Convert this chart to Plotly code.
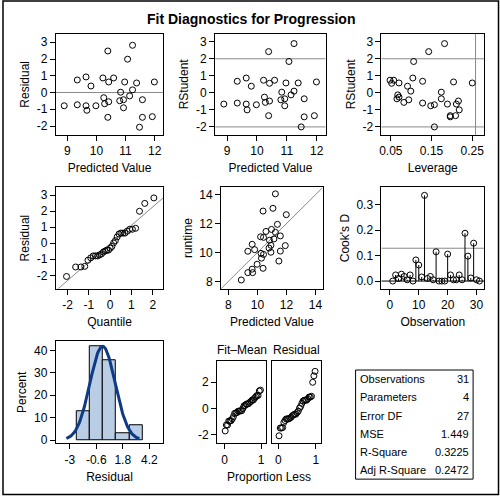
import plotly.graph_objects as go
from statistics import NormalDist, mean, stdev

# ---- data (observation order) ----
observation = list(range(1, 32))
predicted = [9.81, 9.64, 9.34, 8.89, 11.99, 11.58, 10.93, 10.93, 11.07, 9.67,
             10.42, 11.24, 10.59, 9.64, 10.28, 11.58, 10.25, 10.83, 11.14, 11.92,
             9.98, 10.22, 10.97, 11.38, 10.80, 10.39, 10.39, 9.34, 11.48, 10.42, 11.24]
residual = [0.39, -0.79, -0.73, -0.79, 0.63, -0.43, -0.91, -0.43, 1.99, -1.06,
            -0.55, 2.82, 0.87, 0.93, -0.67, -1.48, -0.31, 0.02, -0.20, -1.44,
            -0.79, 0.87, 0.63, 0.57, -0.49, 2.48, -1.48, 0.75, -2.07, 0.63, 0.16]
runtime = [10.20, 8.85, 8.61, 8.10, 12.62, 11.15, 10.02, 10.50, 13.06, 8.61,
           9.87, 14.06, 11.46, 10.57, 9.61, 10.10, 9.94, 10.85, 10.94, 10.48,
           9.19, 11.09, 11.60, 11.95, 10.31, 12.87, 8.91, 10.09, 9.41, 11.05, 11.40]
rstudent = [0.39, -0.66, -0.60, -0.66, 0.64, -0.35, -0.76, -0.35, 1.84, -1.00,
            -0.48, 2.89, 0.74, 0.87, -0.56, -1.41, -0.25, 0.04, -0.12, -1.34,
            -0.70, 0.74, 0.58, 0.58, -0.41, 2.42, -1.34, 0.68, -2.00, 0.56, 0.10]
leverage = [0.091, 0.189, 0.128, 0.211, 0.204, 0.174, 0.148, 0.065, 0.106, 0.218,
            0.216, 0.182, 0.057, 0.104, 0.082, 0.196, 0.070, 0.174, 0.067, 0.209,
            0.157, 0.048, 0.070, 0.250, 0.094, 0.143, 0.196, 0.128, 0.157, 0.052, 0.099]
cooks_d = [0.000, 0.024, 0.010, 0.027, 0.018, 0.005, 0.024, 0.000, 0.083, 0.063,
           0.016, 0.337, 0.010, 0.018, 0.005, 0.115, 0.000, 0.000, 0.000, 0.106,
           0.024, 0.005, 0.005, 0.024, 0.005, 0.188, 0.098, 0.012, 0.149, 0.005, 0.000]

stat_labels = ["Observations", "Parameters", "Error DF", "MSE", "R-Square", "Adj R-Square"]
stat_values = ["31", "4", "27", "1.449", "0.3225", "0.2472"]

n_obs = 31
n_par = 4
title_text = "Fit Diagnostics for Progression"

# ---- derived statistics ----
nd = NormalDist()
sorted_res = sorted(residual)
quantiles = [nd.inv_cdf((i + 1 - 0.375) / (n_obs + 0.25)) for i in range(n_obs)]
res_sd = stdev(residual)
res_mean = mean(residual)
pred_mean = mean(predicted)
fit_mean = sorted([p - pred_mean for p in predicted])
prop_less = [(i + 1 - 0.375) / (n_obs + 0.25) for i in range(n_obs)]
curve_x = [-3.3 + 6.6 * i / 120 for i in range(121)]
dist = NormalDist(res_mean, res_sd)
curve_y = [100 * 1.2 * dist.pdf(x) for x in curve_x]

W = H = 500
def px(x):
    return x / W
def py(y):
    return 1 - y / H

FONT = "Liberation Sans, Arial, sans-serif"
GRAY = "#8a8a8a"

def labels(vals, fmt="{:g}"):
    return [fmt.format(v).replace("\u2212", "-") for v in vals]

fig = go.Figure()

marker = dict(symbol="circle-open", size=6, color="black", line=dict(width=1, color="black"))

panels = {
    1: dict(x=(54, 162), y=(34, 136)),
    2: dict(x=(214, 325), y=(34, 136)),
    3: dict(x=(381, 484), y=(34, 136)),
    4: dict(x=(54, 162), y=(189, 291)),
    5: dict(x=(220, 322), y=(189, 291)),
    6: dict(x=(381, 484), y=(189, 291)),
    7: dict(x=(54, 162), y=(344, 447)),
    8: dict(x=(216, 265), y=(364, 447)),
    9: dict(x=(271, 320), y=(364, 447)),
}

axis_common = dict(showline=True, mirror=True, linecolor="black", linewidth=1,
                   ticks="outside", ticklen=5, tickcolor="black", showgrid=False,
                   zeroline=False, tickfont=dict(family=FONT, size=12, color="black"))

def set_axes(k, xr, yr, xt, yt, xtitle=None, ytitle=None, xfmt="{:g}", yfmt="{:g}",
             showyticks=True):
    p = panels[k]
    xa = dict(axis_common, domain=[px(p["x"][0]), px(p["x"][1])], range=xr,
              anchor="y" + ("" if k == 1 else str(k)), tickvals=xt,
              ticktext=labels(xt, xfmt))
    ya = dict(axis_common, domain=[py(p["y"][1]), py(p["y"][0])], range=yr,
              anchor="x" + ("" if k == 1 else str(k)), tickvals=yt,
              ticktext=labels(yt, yfmt))
    if xtitle:
        xa["title"] = dict(text=xtitle, font=dict(family=FONT, size=12, color="black"), standoff=6)
    if ytitle:
        ya["title"] = dict(text=ytitle, font=dict(family=FONT, size=12, color="black"), standoff=4)
    if not showyticks:
        ya["showticklabels"] = False
        ya["ticks"] = ""
    name = "" if k == 1 else str(k)
    fig.update_layout(**{"xaxis" + name: xa, "yaxis" + name: ya})

def ax(k):
    return ("x" if k == 1 else "x%d" % k), ("y" if k == 1 else "y%d" % k)

def hline(k, y, x0, x1, color=GRAY, width=1):
    xa, ya = ax(k)
    fig.add_shape(type="line", xref=xa, yref=ya, x0=x0, x1=x1, y0=y, y1=y,
                  line=dict(color=color, width=width), layer="below")

# Panel 1: residual vs predicted
xa, ya = ax(1)
hline(1, 0, 8.6, 12.3)
fig.add_trace(go.Scatter(x=predicted, y=residual, mode="markers", marker=marker, xaxis=xa, yaxis=ya))
set_axes(1, [8.6, 12.3], [-2.53, 3.51], [9, 10, 11, 12], [-2, -1, 0, 1, 2, 3],
         "Predicted Value", "Residual")

# Panel 2: rstudent vs predicted
xa, ya = ax(2)
hline(2, 2, 8.6, 12.3)
hline(2, -2, 8.6, 12.3)
fig.add_trace(go.Scatter(x=predicted, y=rstudent, mode="markers", marker=marker, xaxis=xa, yaxis=ya))
set_axes(2, [8.6, 12.3], [-2.47, 3.47], [9, 10, 11, 12], [-2, -1, 0, 1, 2, 3],
         "Predicted Value", "RStudent")

# Panel 3: rstudent vs leverage
xa, ya = ax(3)
hline(3, 2, 0.02, 0.3)
hline(3, -2, 0.02, 0.3)
lev_cut = 2 * n_par / n_obs
fig.add_shape(type="line", xref=xa, yref=ya, x0=lev_cut, x1=lev_cut, y0=-2.47, y1=3.47,
              line=dict(color=GRAY, width=1), layer="below")
fig.add_trace(go.Scatter(x=leverage, y=rstudent, mode="markers", marker=marker, xaxis=xa, yaxis=ya))
set_axes(3, [0.027, 0.279], [-2.47, 3.47], [0.05, 0.15, 0.25], [-2, -1, 0, 1, 2, 3],
         "Leverage", "RStudent", xfmt="{:.2f}")

# Panel 4: QQ plot
xa, ya = ax(4)
fig.add_trace(go.Scatter(x=[-2.6, 2.6], y=[res_mean - 2.6 * res_sd, res_mean + 2.6 * res_sd],
                         mode="lines", line=dict(color=GRAY, width=1), xaxis=xa, yaxis=ya))
fig.add_trace(go.Scatter(x=quantiles, y=sorted_res, mode="markers", marker=marker, xaxis=xa, yaxis=ya))
set_axes(4, [-2.56, 2.5], [-2.83, 3.47], [-2, -1, 0, 1, 2], [-2, -1, 0, 1, 2, 3],
         "Quantile", "Residual")

# Panel 5: runtime vs predicted
xa, ya = ax(5)
fig.add_trace(go.Scatter(x=[7.5, 14.5], y=[7.5, 14.5], mode="lines",
                         line=dict(color=GRAY, width=1), xaxis=xa, yaxis=ya))
fig.add_trace(go.Scatter(x=predicted, y=runtime, mode="markers", marker=marker, xaxis=xa, yaxis=ya))
set_axes(5, [7.5, 14.5], [7.5, 14.5], [8, 10, 12, 14], [8, 10, 12, 14],
         "Predicted Value", "runtime")

# Panel 6: Cook's D
xa, ya = ax(6)
hline(6, 4 / n_obs, -3, 33)
hline(6, 0, -3, 33, color="black")
nx, ny = [], []
for o, d in zip(observation, cooks_d):
    nx += [o, o, None]
    ny += [0, d, None]
fig.add_trace(go.Scatter(x=nx, y=ny, mode="lines", line=dict(color="black", width=1),
                         xaxis=xa, yaxis=ya))
fig.add_trace(go.Scatter(x=observation, y=cooks_d, mode="markers", marker=marker, xaxis=xa, yaxis=ya))
set_axes(6, [-2.9, 32.6], [-0.03, 0.368], [0, 10, 20, 30], [0, 0.1, 0.2, 0.3],
         "Observation", "Cook's D", yfmt="{:.1f}")

# Panel 7: histogram
xa, ya = ax(7)
fig.add_trace(go.Histogram(x=residual, histnorm="percent",
                           xbins=dict(start=-2.4, end=3.6, size=1.2),
                           marker=dict(color="#b9cde5", line=dict(color="black", width=1)),
                           xaxis=xa, yaxis=ya))
fig.add_trace(go.Scatter(x=curve_x, y=curve_y, mode="lines",
                         line=dict(color="#0e3a86", width=3), xaxis=xa, yaxis=ya))
set_axes(7, [-4.26, 5.47], [-1.5, 44.1], [-3, -0.6, 1.8, 4.2], [0, 10, 20, 30, 40],
         "Residual", "Percent")

# Panel 8/9: residual-fit spread
xa, ya = ax(8)
fig.add_trace(go.Scatter(x=prop_less, y=fit_mean, mode="markers", marker=marker, xaxis=xa, yaxis=ya))
set_axes(8, [-0.2, 1.13], [-2.65, 3.6], [0, 1], [-2, 0, 2])
xa, ya = ax(9)
fig.add_trace(go.Scatter(x=prop_less, y=sorted_res, mode="markers", marker=marker, xaxis=xa, yaxis=ya))
set_axes(9, [-0.17, 1.13], [-2.65, 3.6], [0, 1], [-2, 0, 2], showyticks=False)

annots = [
    dict(text="<b>%s</b>" % title_text, x=px(250), y=py(19), font=dict(size=14)),
    dict(text="Fit\u2013Mean", x=px(240.5), y=py(353), font=dict(size=12)),
    dict(text="Residual", x=px(295.5), y=py(353), font=dict(size=12)),
    dict(text="Proportion Less", x=px(268), y=py(481), font=dict(size=12)),
]
# stats table
row_h = 18.2
for i, (lab, val) in enumerate(zip(stat_labels, stat_values)):
    yc = 382.5 + i * row_h
    annots.append(dict(text=lab, x=px(357), y=py(yc), xanchor="left", font=dict(size=11)))
    annots.append(dict(text=val, x=px(471), y=py(yc), xanchor="right", font=dict(size=11)))
for a in annots:
    a.setdefault("xanchor", "center")
    a.update(xref="paper", yref="paper", yanchor="middle", showarrow=False)
    a["font"] = dict(family=FONT, color="black", size=a["font"]["size"])
fig.update_layout(annotations=annots)

fig.add_shape(type="rect", xref="paper", yref="paper", x0=px(355), x1=px(473),
              y0=py(483), y1=py(373), line=dict(color="black", width=1))
fig.add_shape(type="rect", xref="paper", yref="paper", x0=px(1), x1=px(498.5),
              y0=py(498.5), y1=py(1), line=dict(color="black", width=1.5))

fig.update_layout(width=W, height=H, margin=dict(l=0, r=0, t=0, b=0),
                  paper_bgcolor="white", plot_bgcolor="white", showlegend=False,
                  bargap=0, font=dict(family=FONT, size=12, color="black"))

post = ("document.documentElement.style.overflow='hidden';"
        "document.body.style.margin='0';document.body.style.overflow='hidden';"
        "var d=document.getElementById('{plot_id}');"
        "d.style.position='fixed';d.style.left='0px';d.style.top='0px';")
fig.write_html("out.html", config={"displayModeBar": False}, post_script=post)
